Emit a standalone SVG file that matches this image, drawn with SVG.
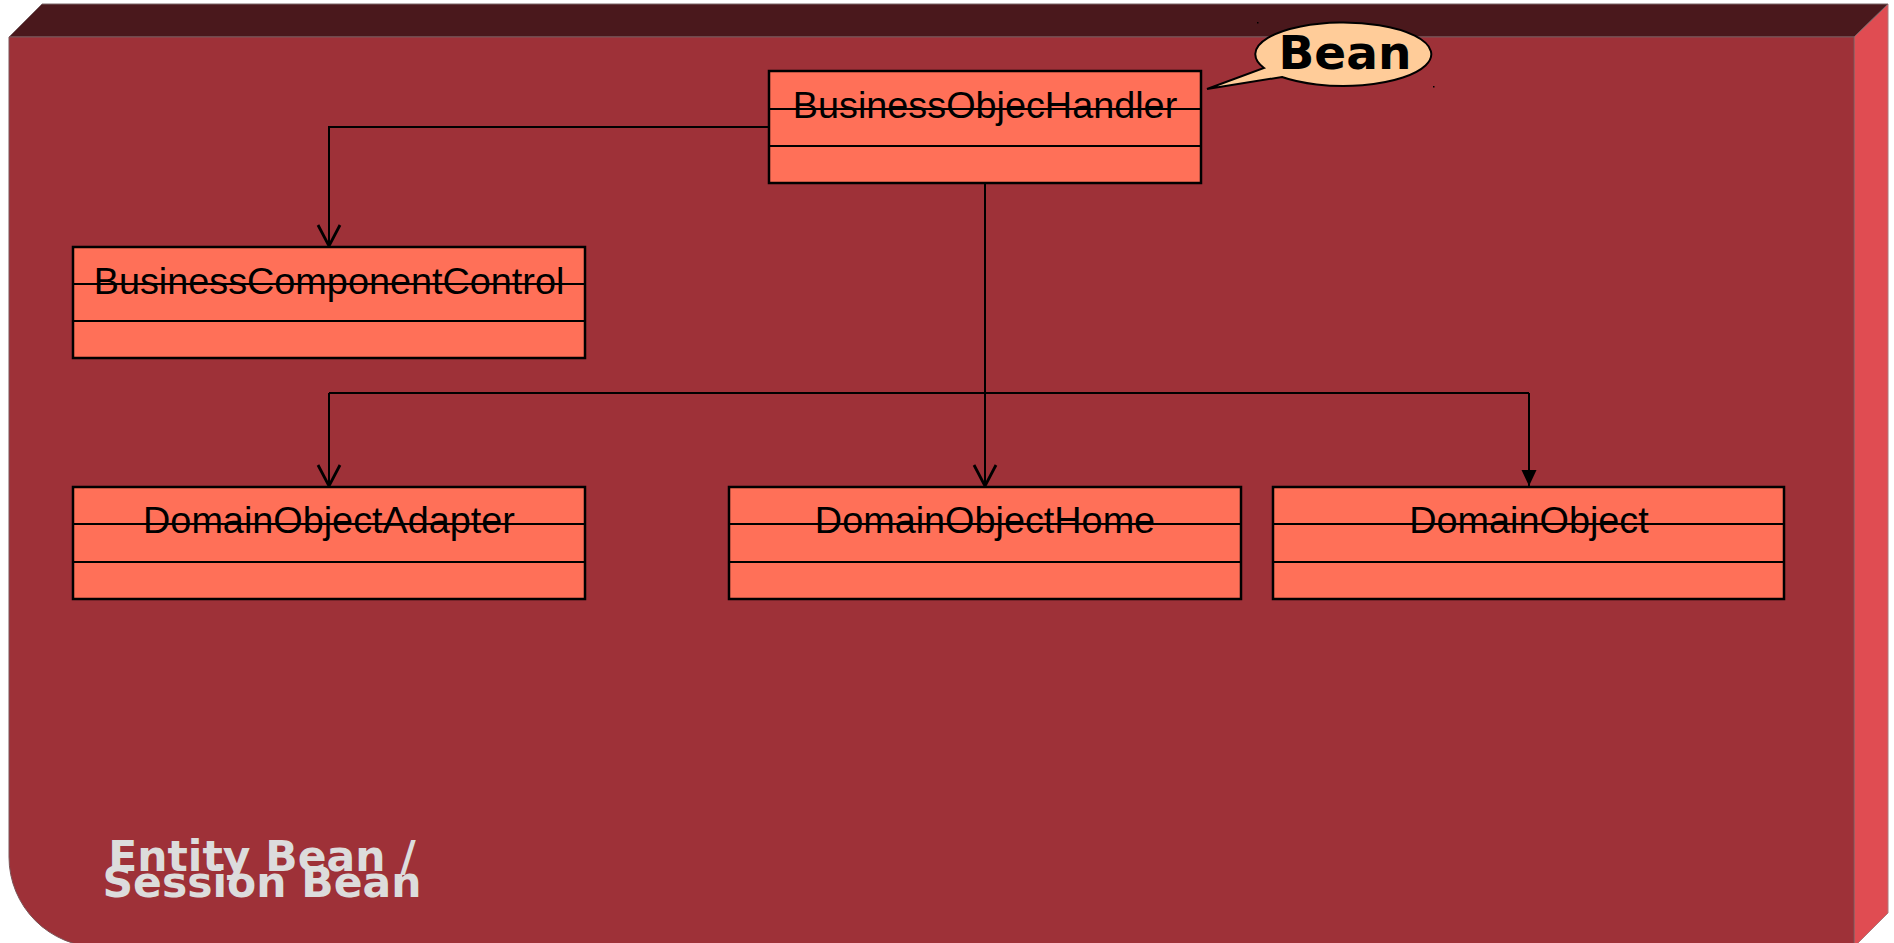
<svg xmlns="http://www.w3.org/2000/svg" width="1894" height="943" viewBox="0 0 1894 943">
  <style>
    .frame-top { fill: #4a181c; stroke: #7a6466; stroke-width: 1; }
    .frame-side { fill: #e04c52; stroke: #b0787a; stroke-width: 1; }
    .frame-front { fill: #9e3138; stroke: #7a5558; stroke-width: 1; }
    .cls-box { fill: #ff7058; stroke: #000; stroke-width: 2.5; }
    .cls-div { stroke: #000; stroke-width: 2.2; fill: none; }
    .cls-name { font-family: "Liberation Sans", Arial, sans-serif; font-size: 37.8px; fill: #000; text-anchor: middle; }
    .link { fill: none; stroke: #000; stroke-width: 2; }
    .frame-label { font-family: "DejaVu Sans", sans-serif; font-weight: bold; font-size: 42.5px; fill: #dcdcdc; text-anchor: middle; }
    .note { fill: #ffcc99; stroke: #000; stroke-width: 2; }
    .note-text { font-family: "DejaVu Sans", sans-serif; font-weight: bold; font-size: 47px; fill: #000; text-anchor: middle; }
  </style>
  <defs>
    <marker id="open-arrow" markerUnits="userSpaceOnUse" markerWidth="30" markerHeight="30" refX="0" refY="0" orient="auto" overflow="visible">
      <path d="M-21,-11 L0,0 L-21,11" fill="none" stroke="#000" stroke-width="2.8"/>
    </marker>
    <marker id="solid-arrow" markerUnits="userSpaceOnUse" markerWidth="30" markerHeight="30" refX="0" refY="0" orient="auto" overflow="visible">
      <path d="M0,0 L-16,-7.5 L-16,7.5 Z" fill="#000"/>
    </marker>
  </defs>

  <!-- component frame drawn as a 3D box -->
  <g id="frame">
    <path class="frame-side" d="M1854,37 L1888,4 L1888,913 L1854,947 Z"/>
    <path class="frame-top" d="M9,37 L42,4 L1888,4 L1854,37 Z"/>
    <path class="frame-front" d="M9,37 H1854 V947 H99 A90,90 0 0 1 9,857 Z"/>
    <text class="frame-label" x="262" y="871">Entity Bean /</text>
    <text class="frame-label" x="262" y="897">Session Bean</text>
  </g>

  <!-- connectors -->
  <g id="connectors">
    <path class="link" d="M769,127 H329 V246" marker-end="url(#open-arrow)"/>
    <path class="link" d="M985,183 V486" marker-end="url(#open-arrow)"/>
    <path class="link" d="M329,393 H1529"/>
    <path class="link" d="M329,393 V486" marker-end="url(#open-arrow)"/>
    <path class="link" d="M1529,393 V486" marker-end="url(#solid-arrow)"/>
  </g>

  <!-- classes -->
  <g id="BusinessObjecHandler">
    <rect class="cls-box" x="769" y="71" width="432" height="112"/>
    <text class="cls-name" x="985" y="118">BusinessObjecHandler</text>
    <path class="cls-div" d="M769,109 H1201 M769,146 H1201"/>
  </g>

  <g id="BusinessComponentControl">
    <rect class="cls-box" x="73" y="247" width="512" height="111"/>
    <text class="cls-name" x="329" y="294">BusinessComponentControl</text>
    <path class="cls-div" d="M73,284 H585 M73,321 H585"/>
  </g>

  <g id="DomainObjectAdapter">
    <rect class="cls-box" x="73" y="487" width="512" height="112"/>
    <text class="cls-name" x="329" y="533">DomainObjectAdapter</text>
    <path class="cls-div" d="M73,524 H585 M73,562 H585"/>
  </g>

  <g id="DomainObjectHome">
    <rect class="cls-box" x="729" y="487" width="512" height="112"/>
    <text class="cls-name" x="985" y="533">DomainObjectHome</text>
    <path class="cls-div" d="M729,524 H1241 M729,562 H1241"/>
  </g>

  <g id="DomainObject">
    <rect class="cls-box" x="1273" y="487" width="511" height="112"/>
    <text class="cls-name" x="1529" y="533">DomainObject</text>
    <path class="cls-div" d="M1273,524 H1784 M1273,562 H1784"/>
  </g>

  <!-- stereotype callout -->
  <g id="bean-note">
    <path class="note" d="M1264,68 A88,31.7 0 1 1 1282,77 L1207,89 Z"/>
    <text class="note-text" x="1345" y="69">Bean</text>
    <rect x="1257" y="22" width="1.5" height="1.5" fill="#000"/>
    <rect x="1433" y="86" width="1.5" height="1.5" fill="#000"/>
  </g>
</svg>
